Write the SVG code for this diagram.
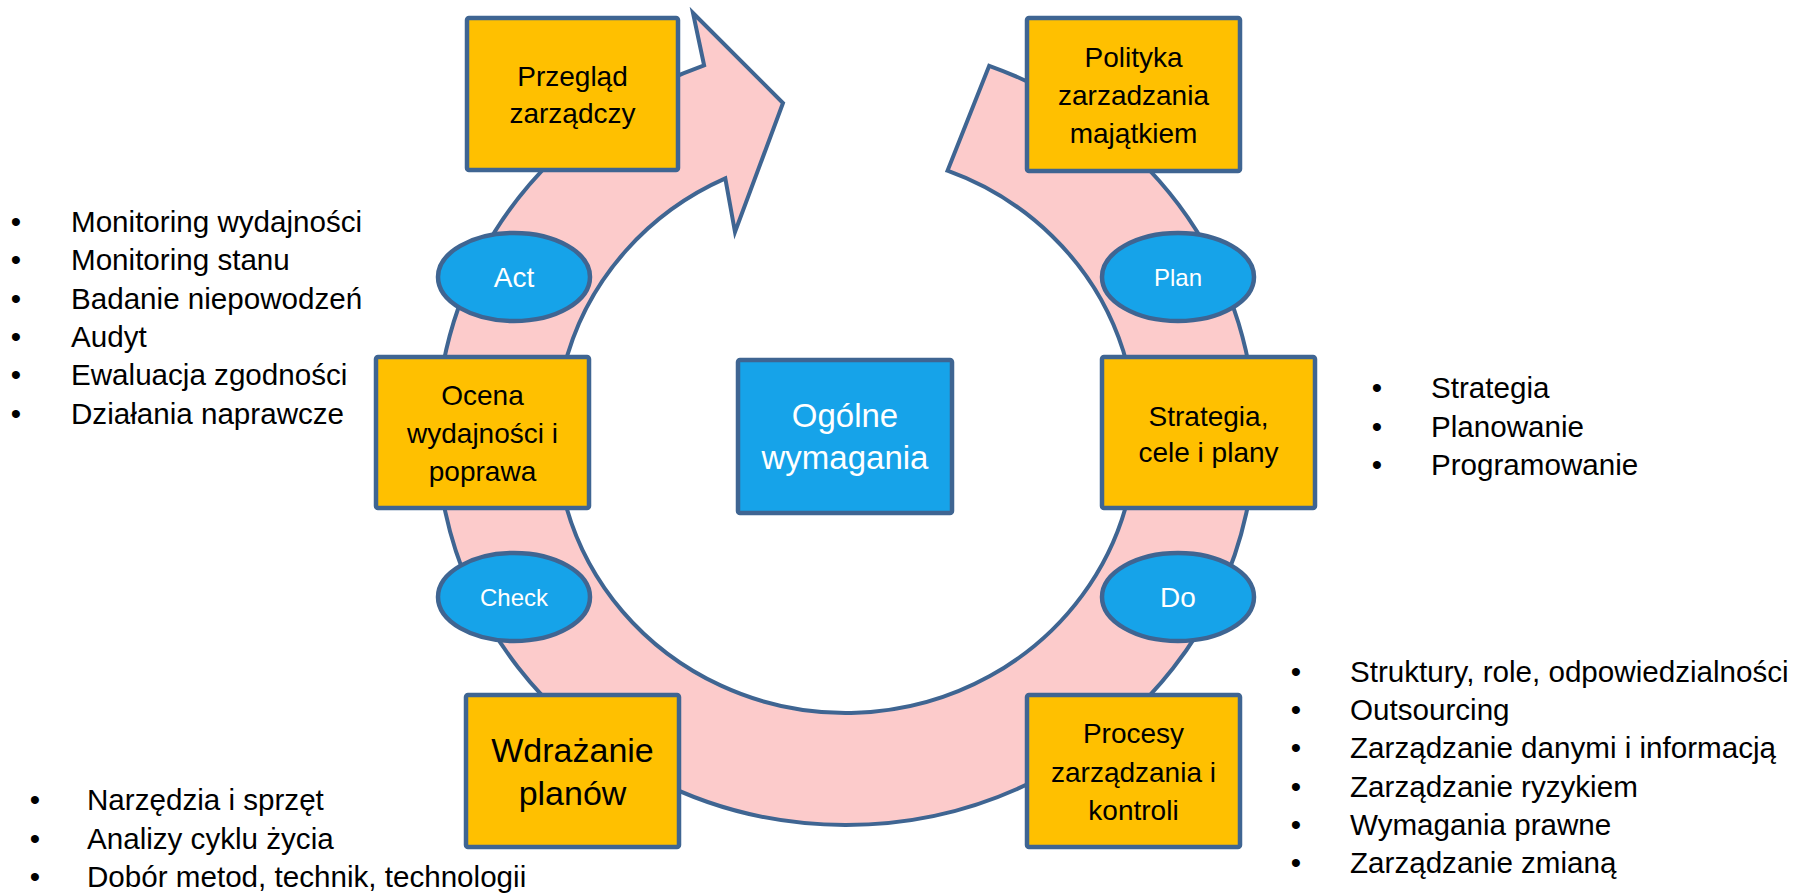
<svg xmlns="http://www.w3.org/2000/svg" width="1793" height="893" viewBox="0 0 1793 893">
<style>
.bg{fill:#ffffff}
.ring{fill:#FCCBCB;stroke:#3F6592;stroke-width:4;stroke-linejoin:miter}
.box{fill:#FFC000;stroke:#3F6592;stroke-width:4.5;stroke-linejoin:round}
.blue{fill:#16A3E9;stroke:#3F6592;stroke-width:4.5}
.t{font-family:"Liberation Sans",Arial,sans-serif;fill:#000;text-anchor:middle}
.bt{font-size:28px}
.w{fill:#fff}
.li{font-family:"Liberation Sans",Arial,sans-serif;font-size:29.6px;fill:#000}
.bu{text-anchor:middle}
</style>
<rect class="bg" x="0" y="0" width="1793" height="893"/>
<g id="connectors">
<path class="ring" d="M 989.2 65.8 A 409 392 0 1 1 704.1 65.3 L 693 13 L 783 103 L 735 232 L 725.3 178.4 A 290 280 0 1 0 947.5 170.7 Z"/>
</g>
<g id="przeglad">
<rect class="box" x="467" y="18" width="211" height="152" rx="2"/>
<text class="t bt" x="572.5" y="86">Przegląd</text>
<text class="t bt" x="572.5" y="123">zarządczy</text>
</g>
<g id="polityka">
<rect class="box" x="1027" y="18" width="213" height="153" rx="2"/>
<text class="t bt" x="1133.5" y="67">Polityka</text>
<text class="t bt" x="1133.5" y="105">zarzadzania</text>
<text class="t bt" x="1133.5" y="143">majątkiem</text>
</g>
<g id="ocena">
<rect class="box" x="376" y="357" width="213" height="151" rx="2"/>
<text class="t bt" x="482.5" y="405">Ocena</text>
<text class="t bt" x="482.5" y="443">wydajności i</text>
<text class="t bt" x="482.5" y="481">poprawa</text>
</g>
<g id="strategia">
<rect class="box" x="1102" y="357" width="213" height="151" rx="2"/>
<text class="t bt" x="1208.5" y="426">Strategia,</text>
<text class="t bt" x="1208.5" y="462">cele i plany</text>
</g>
<g id="wdrazanie">
<rect class="box" x="466" y="695" width="213" height="152" rx="2"/>
<text class="t" style="font-size:34px" x="572.5" y="762">Wdrażanie</text>
<text class="t" style="font-size:34px" x="572.5" y="805">planów</text>
</g>
<g id="procesy">
<rect class="box" x="1027" y="695" width="213" height="152" rx="2"/>
<text class="t bt" x="1133.5" y="743">Procesy</text>
<text class="t bt" x="1133.5" y="782">zarządzania i</text>
<text class="t bt" x="1133.5" y="820">kontroli</text>
</g>
<g id="ogolne">
<rect class="blue" x="738" y="360" width="214" height="153" rx="2"/>
<text class="t w" style="font-size:33px" x="845" y="427">Ogólne</text>
<text class="t w" style="font-size:33px" x="845" y="469">wymagania</text>
</g>
<g id="act">
<ellipse class="blue" cx="514" cy="277" rx="76" ry="44"/>
<text class="t w" style="font-size:28px" x="514" y="287">Act</text>
</g>
<g id="plan">
<ellipse class="blue" cx="1178" cy="277" rx="76" ry="44"/>
<text class="t w" style="font-size:24px" x="1178" y="286">Plan</text>
</g>
<g id="check">
<ellipse class="blue" cx="514" cy="597" rx="76" ry="44"/>
<text class="t w" style="font-size:24px" x="514" y="606">Check</text>
</g>
<g id="do">
<ellipse class="blue" cx="1178" cy="597" rx="76" ry="44"/>
<text class="t w" style="font-size:28px" x="1178" y="607">Do</text>
</g>
<g id="list-check">
<text class="li bu" x="16" y="232">•</text><text class="li" x="71" y="232">Monitoring wydajności</text>
<text class="li bu" x="16" y="270">•</text><text class="li" x="71" y="270">Monitoring stanu</text>
<text class="li bu" x="16" y="308.5">•</text><text class="li" x="71" y="308.5">Badanie niepowodzeń</text>
<text class="li bu" x="16" y="347">•</text><text class="li" x="71" y="347">Audyt</text>
<text class="li bu" x="16" y="385">•</text><text class="li" x="71" y="385">Ewaluacja zgodności</text>
<text class="li bu" x="16" y="423.5">•</text><text class="li" x="71" y="423.5">Działania naprawcze</text>
</g>
<g id="list-plan">
<text class="li bu" x="1377" y="398">•</text><text class="li" x="1431" y="398">Strategia</text>
<text class="li bu" x="1377" y="437">•</text><text class="li" x="1431" y="437">Planowanie</text>
<text class="li bu" x="1377" y="475">•</text><text class="li" x="1431" y="475">Programowanie</text>
</g>
<g id="list-do">
<text class="li bu" x="1296" y="682">•</text><text class="li" x="1350" y="682">Struktury, role, odpowiedzialności</text>
<text class="li bu" x="1296" y="720">•</text><text class="li" x="1350" y="720">Outsourcing</text>
<text class="li bu" x="1296" y="758">•</text><text class="li" x="1350" y="758">Zarządzanie danymi i informacją</text>
<text class="li bu" x="1296" y="797">•</text><text class="li" x="1350" y="797">Zarządzanie ryzykiem</text>
<text class="li bu" x="1296" y="835">•</text><text class="li" x="1350" y="835">Wymagania prawne</text>
<text class="li bu" x="1296" y="873">•</text><text class="li" x="1350" y="873">Zarządzanie zmianą</text>
</g>
<g id="list-impl">
<text class="li bu" x="35" y="810">•</text><text class="li" x="87" y="810">Narzędzia i sprzęt</text>
<text class="li bu" x="35" y="849">•</text><text class="li" x="87" y="849">Analizy cyklu życia</text>
<text class="li bu" x="35" y="887">•</text><text class="li" x="87" y="887">Dobór metod, technik, technologii</text>
</g>
</svg>
